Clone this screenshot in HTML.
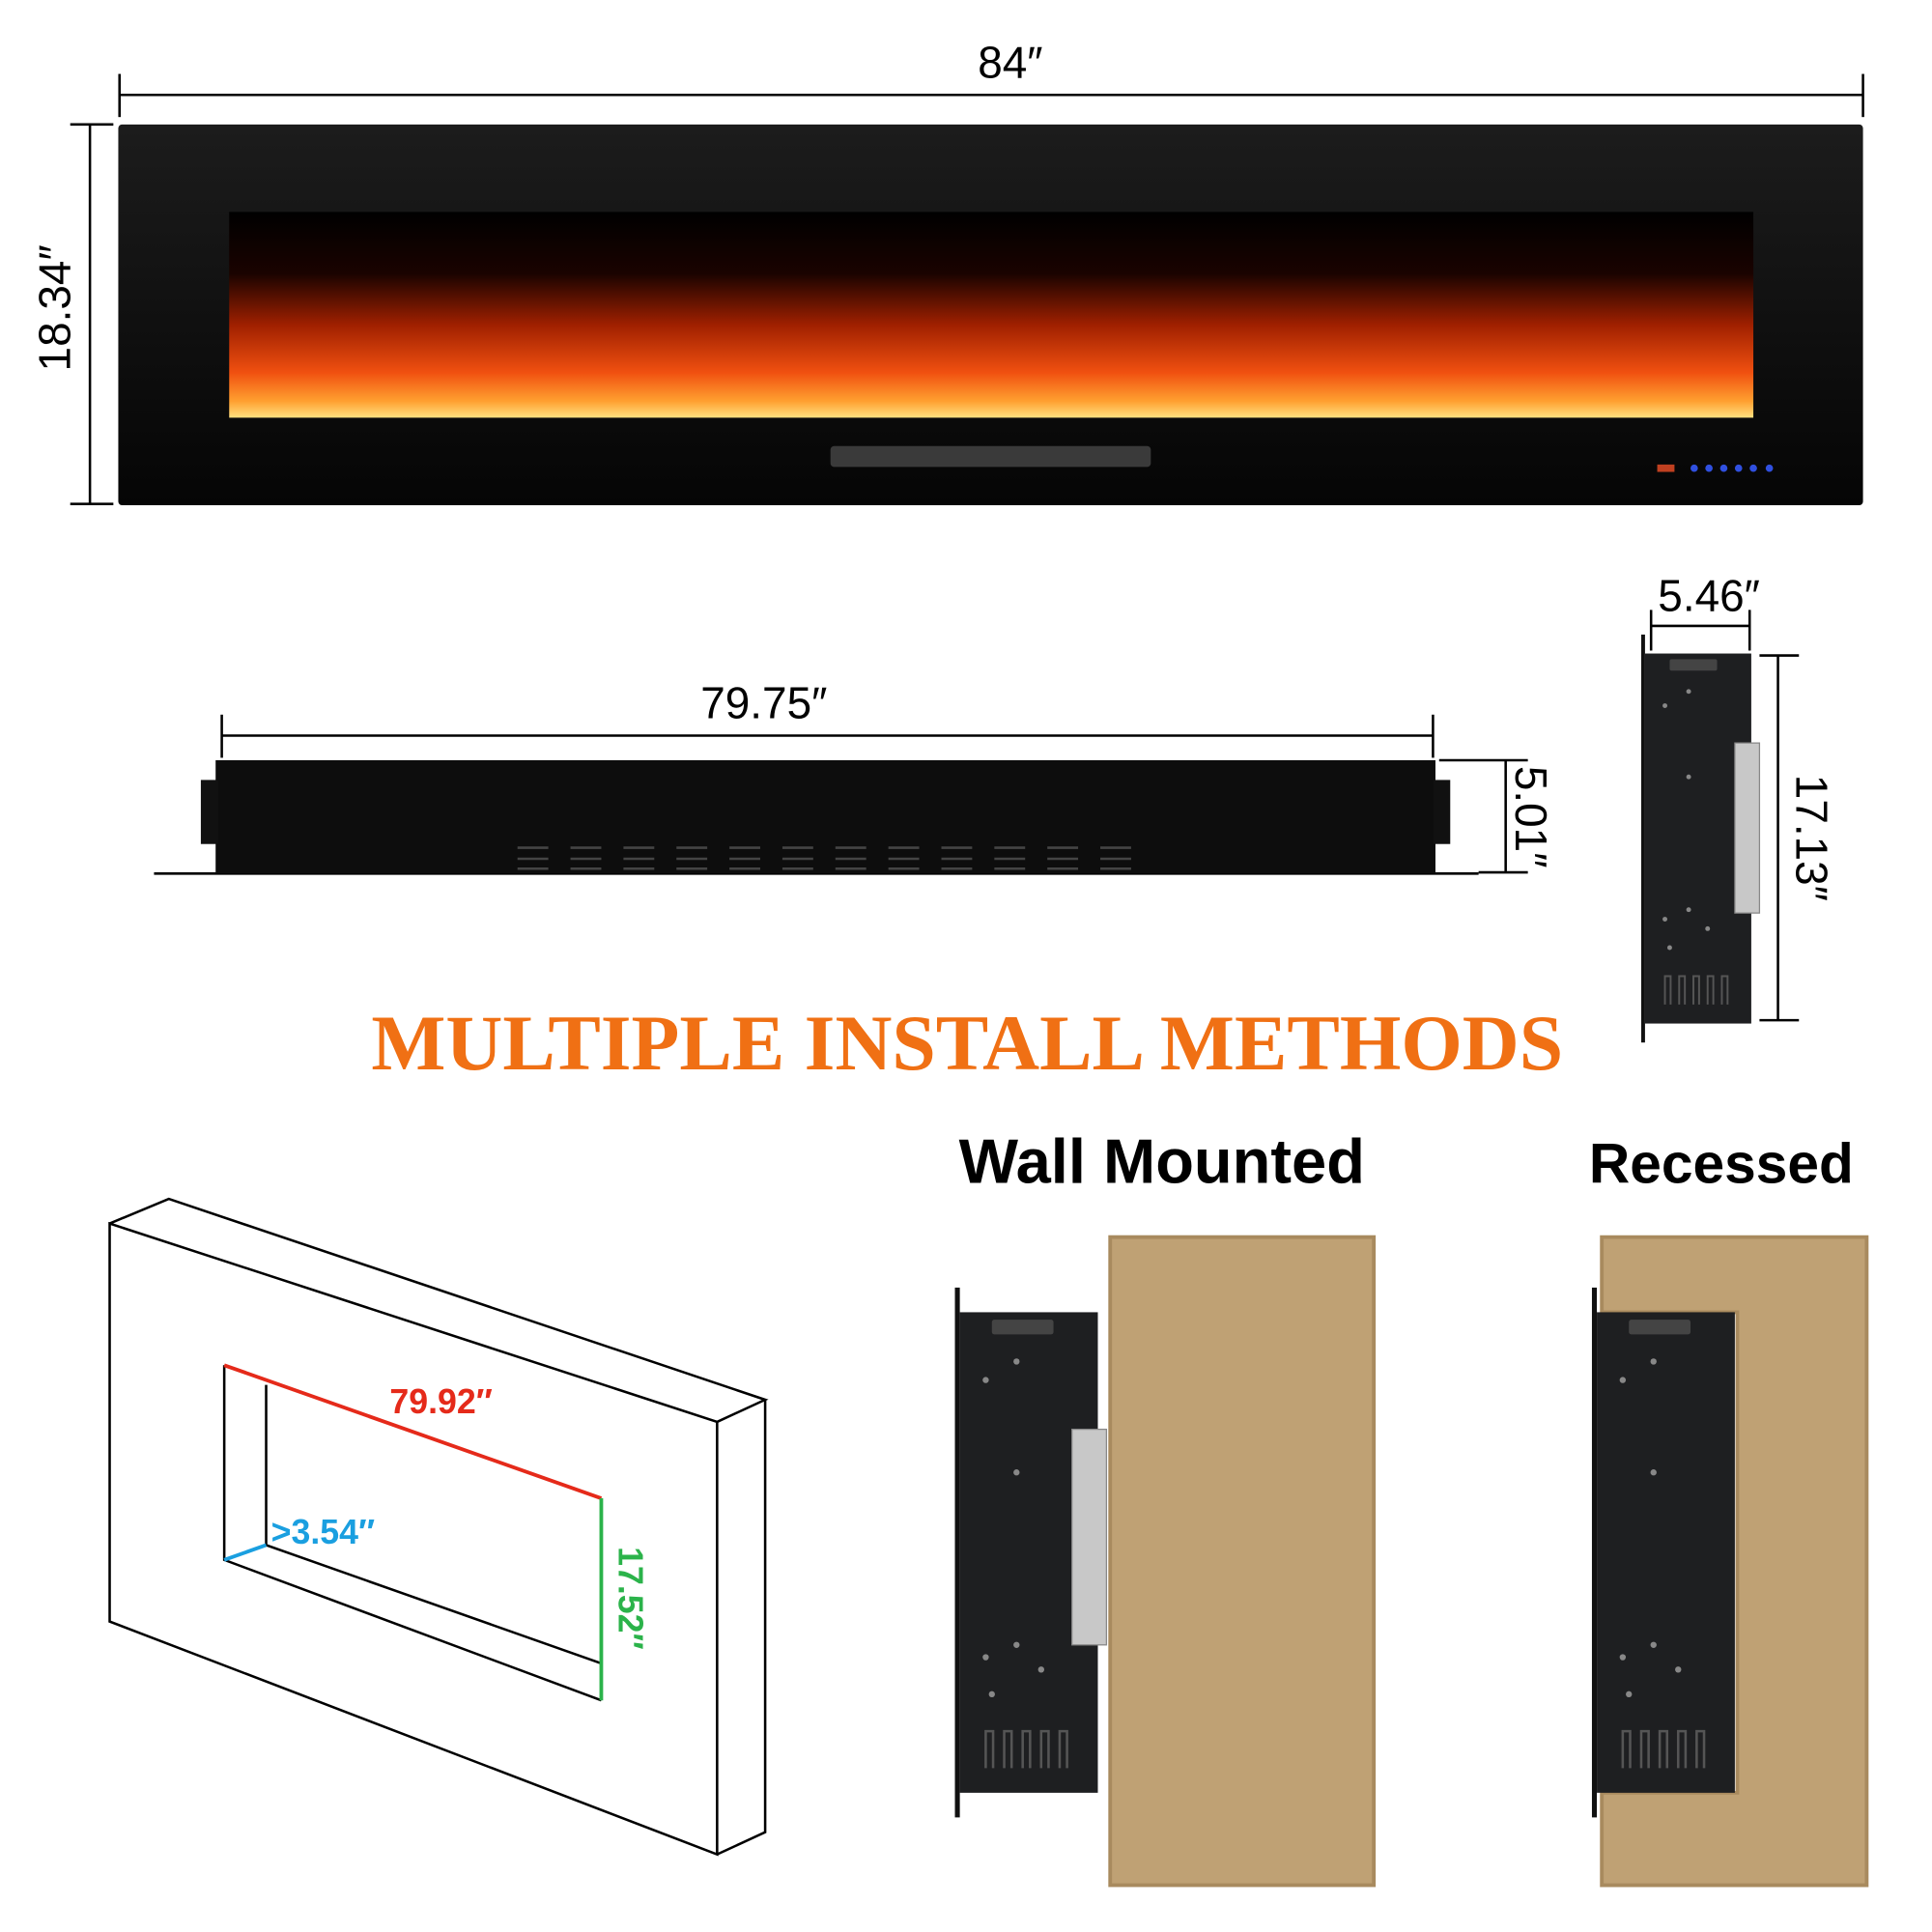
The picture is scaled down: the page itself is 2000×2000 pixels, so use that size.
<!DOCTYPE html>
<html><head><meta charset="utf-8"><style>
html,body{margin:0;padding:0;background:#fff;}
svg{display:block;}
text{font-family:"Liberation Sans",sans-serif;}
</style></head><body>
<svg width="2000" height="2000" viewBox="0 0 1568 1568" xmlns="http://www.w3.org/2000/svg">
<defs>
<linearGradient id="fl" x1="0" y1="0" x2="0" y2="1">
<stop offset="0" stop-color="#000"/><stop offset="0.3" stop-color="#1a0300"/>
<stop offset="0.55" stop-color="#a02000"/><stop offset="0.78" stop-color="#f05010"/>
<stop offset="0.92" stop-color="#ffa030"/><stop offset="1" stop-color="#ffe080"/>
</linearGradient>
<linearGradient id="fr" x1="0" y1="0" x2="0" y2="1">
<stop offset="0" stop-color="#1c1c1c"/><stop offset="1" stop-color="#050505"/>
</linearGradient>
<g id="dev">
<rect x="0" y="0" width="4" height="430" fill="#111"/>
<rect x="4" y="20" width="112" height="390" fill="#1e1f21"/>
<rect x="30" y="26" width="50" height="12" fill="#444" rx="2"/>
<g fill="#888"><circle cx="50" cy="60" r="2.5"/><circle cx="25" cy="75" r="2.5"/><circle cx="50" cy="150" r="2.5"/><circle cx="25" cy="300" r="2.5"/><circle cx="50" cy="290" r="2.5"/><circle cx="70" cy="310" r="2.5"/><circle cx="30" cy="330" r="2.5"/></g>
<g fill="none" stroke="#555" stroke-width="2"><path d="M25 390v-30h6v30M40 390v-30h6v30M55 390v-30h6v30M70 390v-30h6v30M85 390v-30h6v30"/></g>
</g>
</defs>
<!-- top dim -->
<g stroke="#000" stroke-width="2"><line x1="97" y1="77" x2="1512" y2="77"/><line x1="97" y1="60" x2="97" y2="95"/><line x1="1512" y1="60" x2="1512" y2="95"/>
<line x1="73" y1="101" x2="73" y2="409"/><line x1="57" y1="101" x2="92" y2="101"/><line x1="57" y1="409" x2="92" y2="409"/></g>
<text x="820" y="63" font-size="36" text-anchor="middle">84″</text>
<text transform="translate(57,250) rotate(-90)" font-size="36" text-anchor="middle">18.34″</text>
<!-- fireplace -->
<rect x="96" y="101" width="1416" height="309" fill="url(#fr)" rx="3"/>
<rect x="186" y="172" width="1237" height="167" fill="url(#fl)"/>
<rect x="674" y="362" width="260" height="17" fill="#3a3a3a" rx="3"/>
<g fill="#3050e0"><circle cx="1375" cy="380" r="3"/><circle cx="1387" cy="380" r="3"/><circle cx="1399" cy="380" r="3"/><circle cx="1411" cy="380" r="3"/><circle cx="1423" cy="380" r="3"/><circle cx="1436" cy="380" r="3"/></g>
<rect x="1345" y="377" width="14" height="6" fill="#c04020"/>
<!-- side view -->
<g stroke="#000" stroke-width="2"><line x1="180" y1="597" x2="1163" y2="597"/><line x1="180" y1="580" x2="180" y2="615"/><line x1="1163" y1="580" x2="1163" y2="615"/>
<line x1="1222" y1="617" x2="1222" y2="708"/><line x1="1168" y1="617" x2="1240" y2="617"/><line x1="1200" y1="708" x2="1240" y2="708"/>
<line x1="125" y1="709" x2="1200" y2="709"/></g>
<text x="620" y="583" font-size="36" text-anchor="middle">79.75″</text>
<text transform="translate(1230,663) rotate(90)" font-size="36" text-anchor="middle">5.01″</text>
<rect x="175" y="617" width="990" height="92" fill="#0d0d0d"/>
<rect x="163" y="633" width="14" height="52" fill="#111"/><rect x="1163" y="633" width="14" height="52" fill="#111"/>
<g stroke="#444" stroke-width="2">
<path d="M420 688h25M463 688h25M506 688h25M549 688h25M592 688h25M635 688h25M678 688h25M721 688h25M764 688h25M807 688h25M850 688h25M893 688h25"/>
<path d="M420 697h25M463 697h25M506 697h25M549 697h25M592 697h25M635 697h25M678 697h25M721 697h25M764 697h25M807 697h25M850 697h25M893 697h25"/>
<path d="M420 705h25M463 705h25M506 705h25M549 705h25M592 705h25M635 705h25M678 705h25M721 705h25M764 705h25M807 705h25M850 705h25M893 705h25"/></g>
<!-- side profile -->
<g stroke="#000" stroke-width="2"><line x1="1340" y1="508" x2="1420" y2="508"/><line x1="1340" y1="495" x2="1340" y2="528"/><line x1="1420" y1="495" x2="1420" y2="528"/>
<line x1="1443" y1="532" x2="1443" y2="828"/><line x1="1428" y1="532" x2="1460" y2="532"/><line x1="1428" y1="828" x2="1460" y2="828"/></g>
<text x="1387" y="496" font-size="36" text-anchor="middle">5.46″</text>
<text transform="translate(1458,680) rotate(90)" font-size="36" text-anchor="middle">17.13″</text>
<g transform="translate(1332,515) scale(0.77,0.77)"><use href="#dev"/></g>
<rect x="1408" y="603" width="20" height="138" fill="#c8c8c8" stroke="#888"/>
<!-- title -->
<text x="785" y="868" font-size="64" font-weight="bold" fill="#f07014" text-anchor="middle" style="font-family:'Liberation Serif',serif">MULTIPLE INSTALL METHODS</text>
<text x="943" y="960" font-size="51" font-weight="bold" text-anchor="middle">Wall Mounted</text>
<text x="1397" y="960" font-size="46" font-weight="bold" text-anchor="middle">Recessed</text>
<!-- wall mounted -->
<rect x="901" y="1004" width="214" height="526" fill="#bfa174" stroke="#a88a5e" stroke-width="3"/>
<use href="#dev" transform="translate(775,1045)"/>
<rect x="870" y="1160" width="28" height="175" fill="#c8c8c8" stroke="#888"/>
<!-- recessed -->
<path d="M1300 1004H1515V1530H1300V1455H1410V1065H1300Z" fill="#bfa174" stroke="#a88a5e" stroke-width="3"/>
<use href="#dev" transform="translate(1292,1045)"/>
<!-- 3d wall -->
<g fill="none" stroke="#000" stroke-width="2">
<path d="M89 993L582 1154L582 1505L89 1316Z"/>
<path d="M89 993L137 973L621 1136L582 1154"/>
<path d="M621 1136L621 1487L582 1505"/>
<path d="M182 1108L182 1266L488 1380"/>
<path d="M216 1124L216 1254L488 1350"/>
</g>
<line x1="182" y1="1108" x2="488" y2="1216" stroke="#e52a1a" stroke-width="3"/>
<line x1="488" y1="1216" x2="488" y2="1380" stroke="#2bb34a" stroke-width="3"/>
<line x1="182" y1="1266" x2="216" y2="1254" stroke="#1a9fe0" stroke-width="3"/>
<text x="358" y="1147" font-size="28" font-weight="bold" fill="#e52a1a" text-anchor="middle">79.92″</text>
<text x="220" y="1253" font-size="28" font-weight="bold" fill="#1a9fe0">&gt;3.54″</text>
<text transform="translate(502,1297) rotate(90)" font-size="28" font-weight="bold" fill="#2bb34a" text-anchor="middle">17.52″</text>
</svg>
</body></html>
